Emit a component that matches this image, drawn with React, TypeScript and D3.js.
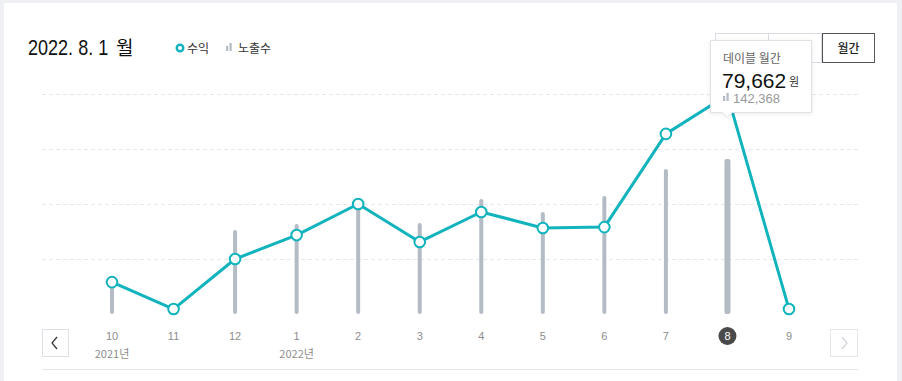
import React from "react";
import * as d3 from "d3";

const months = ["10", "11", "12", "1", "2", "3", "4", "5", "6", "7", "8", "9"];
const revenue = [11600, 1800, 20000, 28700, 40000, 26200, 37100, 31300, 31600, 65500, 79662, 1800];
const impressions = [27500, 1500, 77100, 82600, 99200, 83600, 105600, 93700, 108300, 133100, 142368, 0];
const yearLabels = [
  { idx: 0, label: "2021년" },
  { idx: 3, label: "2022년" },
];
const revenueTicks = [20000, 40000, 60000, 80000];
const selectedIdx = 10;
const titleText = "2022. 8. 1";
const tooltipTitle = "데이블 월간";

const TEAL = "#11b3bd";
const BAR = "#b3bbc5";
const KR = "'Noto Sans CJK KR', 'Noto Sans', sans-serif";
const NUM = "'Liberation Sans', Arial, sans-serif";

export default function App() {
  const W = 902;
  const H = 381;
  const idx = months.map((_, i) => i);
  const x = d3.scalePoint<number>().domain(idx).range([112, 789]);
  const yRev = d3.scaleLinear().domain([0, 80000]).range([314, 94]);
  const yImp = d3.scaleLinear().domain([0, 202000]).range([314, 94]);
  const line = d3
    .line<number>()
    .x((_, i) => x(i) as number)
    .y((d) => yRev(d));

  const sx = x(selectedIdx) as number;
  const fmt = d3.format(",");

  return (
    <div style={{ position: "fixed", left: 0, top: 0 }}>
      <svg width={W} height={H} style={{ display: "block" }}>
        <defs>
          <filter id="sh" x="-20%" y="-20%" width="140%" height="150%">
            <feDropShadow dx="0" dy="1" stdDeviation="2" floodColor="#000" floodOpacity="0.08" />
          </filter>
        </defs>
        <rect x={0} y={0} width={W} height={H} fill="#eef0f3" />
        <rect x={4} y={3} width={893} height={H} fill="#ffffff" />

        {/* title */}
        <g transform="translate(28,55) scale(0.82,1)">
          <text x={0} y={0} fontFamily={NUM} fontSize={22} fill="#111">
            {titleText}
          </text>
        </g>
        <text x={116} y={55} fontFamily={KR} fontSize={19} fill="#111">
          월
        </text>

        {/* legend */}
        <circle cx={180} cy={48} r={3.3} fill="#fff" stroke={TEAL} strokeWidth={2.4} />
        <text x={187} y={52.5} fontFamily={KR} fontSize={12} fill="#333">
          수익
        </text>
        <rect x={226} y={46} width={2.2} height={5} fill={BAR} />
        <rect x={229.5} y={43} width={2.2} height={8} fill={BAR} />
        <text x={238} y={52.5} fontFamily={KR} fontSize={12} fill="#333">
          노출수
        </text>

        {/* period buttons */}
        <rect x={715.5} y={33.5} width={53} height={29} fill="#fff" stroke="#d9dde3" />
        <rect x={768.5} y={33.5} width={53} height={29} fill="#fff" stroke="#d9dde3" />
        <rect x={822.5} y={33.5} width={52} height={29} fill="#fff" stroke="#555" />
        <text x={848.5} y={52.5} textAnchor="middle" fontFamily={KR} fontSize={12} fontWeight={500} fill="#222">
          월간
        </text>

        {/* grid */}
        {revenueTicks.map((t) => (
          <line
            key={t}
            x1={42}
            x2={858}
            y1={Math.round(yRev(t)) + 0.5}
            y2={Math.round(yRev(t)) + 0.5}
            stroke="#e6e8eb"
            strokeDasharray="4,3"
          />
        ))}

        {/* bars */}
        {impressions.map((v, i) => {
          if (v <= 0) return null;
          const w = i === selectedIdx ? 6 : 4;
          const top = yImp(v);
          return (
            <rect
              key={i}
              x={(x(i) as number) - w / 2}
              y={top}
              width={w}
              height={yImp(0) - top}
              rx={2}
              fill={BAR}
            />
          );
        })}

        {/* line */}
        <path d={line(revenue) || ""} fill="none" stroke={TEAL} strokeWidth={3} strokeLinejoin="round" />
        {revenue.map((v, i) => (
          <circle key={i} cx={x(i) as number} cy={yRev(v)} r={5.3} fill="#fff" stroke={TEAL} strokeWidth={2} />
        ))}

        {/* x labels */}
        {months.map((m, i) => {
          const cx = x(i) as number;
          if (i === selectedIdx) {
            return (
              <g key={i}>
                <circle cx={cx} cy={336} r={9} fill="#4a4a4a" />
                <text x={cx} y={340} textAnchor="middle" fontFamily={NUM} fontSize={11} fill="#fff">
                  {m}
                </text>
              </g>
            );
          }
          return (
            <text key={i} x={cx} y={340} textAnchor="middle" fontFamily={NUM} fontSize={11} fill="#8c8c8c">
              {m}
            </text>
          );
        })}
        {yearLabels.map((y) => (
          <text key={y.label} x={x(y.idx) as number} y={358} textAnchor="middle" fontFamily={KR} fontSize={11} fill="#8c8c8c">
            {y.label}
          </text>
        ))}

        {/* nav buttons */}
        <rect x={42.5} y={329.5} width={26} height={27} fill="#fff" stroke="#dcdfe3" />
        <path d="M57,337 L52,343 L57,349" fill="none" stroke="#333" strokeWidth={1.2} />
        <rect x={830.5} y={329.5} width={27} height={27} fill="#fff" stroke="#e3e6ea" />
        <path d="M842,337 L847,343 L842,349" fill="none" stroke="#d0d4d9" strokeWidth={1.2} />

        {/* bottom rule */}
        <line x1={42} x2={858} y1={369.5} y2={369.5} stroke="#e3e5e8" />

        {/* tooltip */}
        <g filter="url(#sh)">
          <path
            d={`M${710.5},40.5 H${811.5} V${112.5} H${sx + 5} L${sx},${117} L${sx - 5},${112.5} H${710.5} Z`}
            fill="#fff"
            stroke="#dfe3e8"
          />
        </g>
        <text x={723} y={63} fontFamily={KR} fontSize={12} fill="#666">
          {tooltipTitle}
        </text>
        <text x={722} y={88} fontFamily={NUM} fontSize={21} fill="#111">
          {fmt(revenue[selectedIdx])}
        </text>
        <text x={789} y={86} fontFamily={KR} fontSize={11} fill="#333">
          원
        </text>
        <rect x={723} y={96} width={2.2} height={5} fill={BAR} />
        <rect x={726.5} y={93} width={2.2} height={8} fill={BAR} />
        <text x={733} y={102.5} fontFamily={NUM} fontSize={13} fill="#999">
          {fmt(impressions[selectedIdx])}
        </text>
      </svg>
    </div>
  );
}
